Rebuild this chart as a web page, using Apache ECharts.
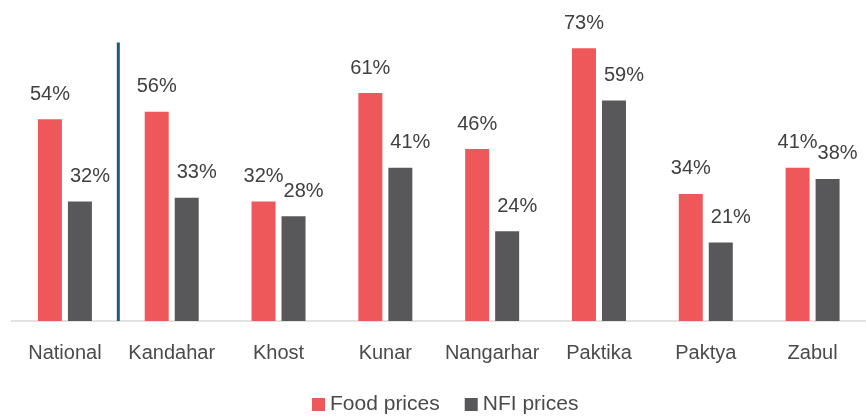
<!DOCTYPE html>
<html>
<head>
<meta charset="utf-8">
<script src="https://cdn.jsdelivr.net/npm/echarts@6/dist/echarts.min.js"></script>
<style>
  html, body { margin: 0; padding: 0; background: #fff; }
  #chart { width: 866px; height: 416px; }
</style>
</head>
<body>
<div id="chart"></div>
<script>
const categories = ["National", "Kandahar", "Khost", "Kunar", "Nangarhar", "Paktika", "Paktya", "Zabul"];
const foodPrices = [54, 56, 32, 61, 46, 73, 34, 41];
const nfiPrices = [32, 33, 28, 41, 24, 59, 21, 38];
// separator between National and the provinces (category boundary 1, up to ~74%)
const separatorX = [1, 1];
const separatorY = [0, 74.5];

const chart = echarts.init(document.getElementById("chart"));
const font = "'Liberation Sans', Arial, sans-serif";
const labelStyle = { show: true, position: "top", distance: 15, formatter: "{c}%", color: "#404040", fontSize: 20, fontFamily: font };

chart.setOption({
  animation: false,
  textStyle: { fontFamily: font },
  legend: {
    bottom: -4,
    left: 307,
    data: ["Food prices", "NFI prices"],
    itemWidth: 13,
    itemHeight: 13,
    itemGap: 25,
    icon: "rect",
    textStyle: { color: "#4a4a4a", fontSize: 21, fontFamily: font },
  },
  grid: { left: 11.5, right: 0, top: 22, bottom: 95, containLabel: false },
  xAxis: [
    {
      type: "category",
      data: categories,
      axisTick: { show: false },
      axisLine: { lineStyle: { color: "#d9d9d9", width: 1.5 } },
      axisLabel: { color: "#4a4a4a", fontSize: 20, fontFamily: font, margin: 22, interval: 0 },
    },
    { type: "value", min: 0, max: categories.length, show: false },
  ],
  yAxis: { type: "value", min: 0, max: 80, show: false, splitLine: { show: false } },
  series: [
    {
      name: "Food prices",
      type: "bar",
      data: foodPrices,
      barWidth: 24,
      barGap: "25%",
      itemStyle: { color: "#ee585a" },
      label: labelStyle,
    },
    {
      name: "NFI prices",
      type: "bar",
      data: nfiPrices,
      barWidth: 24,
      itemStyle: { color: "#58585a" },
      label: { ...labelStyle, offset: [10, 0] },
    },
    {
      name: "separator",
      type: "line",
      xAxisIndex: 1,
      data: separatorX.map((x, i) => [x, separatorY[i]]),
      symbol: "none",
      lineStyle: { color: "#1c5a7d", width: 3 },
      silent: true,
      z: 5,
    },
  ],
});
</script>
</body>
</html>
